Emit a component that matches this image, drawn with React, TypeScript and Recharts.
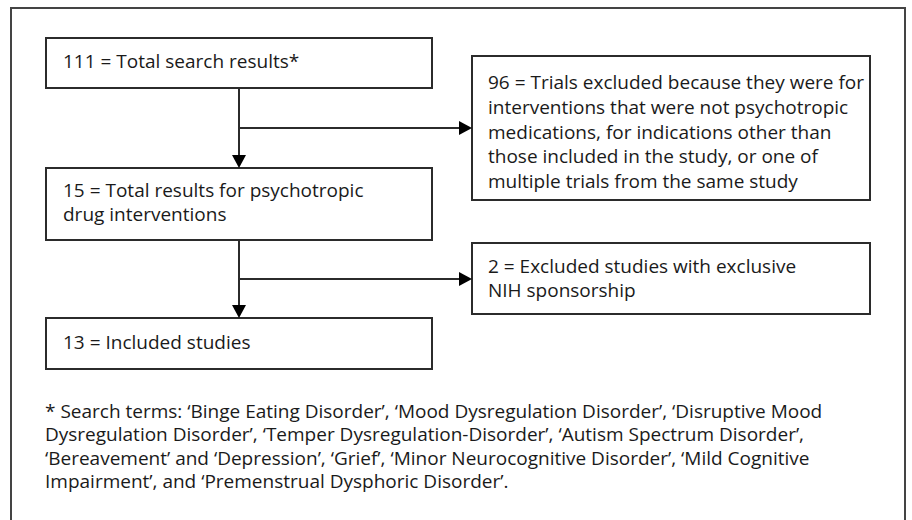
import React from 'react';
import { ComposedChart, XAxis, YAxis, ReferenceArea, ReferenceLine, Scatter } from 'recharts';

// Cajas del diagrama (coordenadas en unidades del eje)
const boxNames = ['search', 'excluded96', 'psycho', 'excluded2', 'included'];
const boxLeft = [46, 472, 46, 472, 46];
const boxRight = [432, 870, 432, 870, 432];
const boxTop = [38, 56, 168, 243, 318];
const boxBottom = [88, 200, 240, 314, 369];

// Textos
const textLines = [
  ['111 = Total search results*'],
  [
    '96 = Trials excluded because they were for',
    'interventions that were not psychotropic',
    'medications, for indications other than',
    'those included in the study, or one of',
    'multiple trials from the same study',
  ],
  ['15 = Total results for psychotropic', 'drug interventions'],
  ['2 = Excluded studies with exclusive', 'NIH sponsorship'],
  ['13 = Included studies'],
  [
    '* Search terms: \u2018Binge Eating Disorder\u2019, \u2018Mood Dysregulation Disorder\u2019, \u2018Disruptive Mood',
    'Dysregulation Disorder\u2019, \u2018Temper Dysregulation-Disorder\u2019, \u2018Autism Spectrum Disorder\u2019,',
    '\u2018Bereavement\u2019 and \u2018Depression\u2019, \u2018Grief\u2019, \u2018Minor Neurocognitive Disorder\u2019, \u2018Mild Cognitive',
    'Impairment\u2019, and \u2018Premenstrual Dysphoric Disorder\u2019.',
  ],
];
const textX = [63, 488, 63, 488, 63, 45];
const textY = [68, 89, 197, 273, 349, 418];
const textStep = [24, 24.8, 24, 24, 24, 23.4];

// Conectores
const connectors = [
  [{ x: 239, y: 88 }, { x: 239, y: 158 }],
  [{ x: 239, y: 128 }, { x: 462, y: 128 }],
  [{ x: 239, y: 240 }, { x: 239, y: 308 }],
  [{ x: 239, y: 279 }, { x: 462, y: 279 }],
];
const arrowTips = [
  { x: 239, y: 168, dir: 'down' },
  { x: 472, y: 128, dir: 'right' },
  { x: 239, y: 318, dir: 'down' },
  { x: 472, y: 279, dir: 'right' },
];

const textData = textLines.map((lines, i) => ({ x: textX[i], y: textY[i], lines, step: textStep[i] }));

const INK = '#2b2b2b';
const FONT = '"Open Sans", sans-serif';

const TextShape = (props: any) => {
  const { cx, cy, payload } = props;
  return (
    <text x={cx} y={cy} fill="#1a1a1a" fontSize={19} fontFamily={FONT}>
      {payload.lines.map((l: string, i: number) => (
        <tspan key={i} x={cx} y={cy + i * payload.step}>
          {l}
        </tspan>
      ))}
    </text>
  );
};

const ArrowShape = (props: any) => {
  const { cx, cy, payload } = props;
  const d =
    payload.dir === 'down'
      ? `M${cx},${cy} L${cx - 7},${cy - 13} L${cx + 7},${cy - 13} Z`
      : `M${cx},${cy} L${cx - 13},${cy - 7} L${cx - 13},${cy + 7} Z`;
  return <path d={d} fill="#000" />;
};

export default function App() {
  return (
    <div style={{ position: 'absolute', left: 0, top: 0, width: 912, height: 520, background: '#fff' }}>
      <ComposedChart width={912} height={520} margin={{ top: 0, right: 0, bottom: 0, left: 0 }}>
        <XAxis type="number" dataKey="x" domain={[0, 912]} hide allowDataOverflow />
        <YAxis type="number" dataKey="y" domain={[0, 520]} reversed hide allowDataOverflow />
        <ReferenceArea
          x1={11}
          x2={905}
          y1={8}
          y2={560}
          ifOverflow="visible"
          fill="#fff"
          fillOpacity={1}
          stroke="#444"
          strokeWidth={2}
        />
        {boxNames.map((name, i) => (
          <ReferenceArea
            key={name}
            x1={boxLeft[i]}
            x2={boxRight[i]}
            y1={boxTop[i]}
            y2={boxBottom[i]}
            fill="#fff"
            fillOpacity={1}
            stroke={INK}
            strokeWidth={2}
          />
        ))}
        {connectors.map((seg, i) => (
          <ReferenceLine key={i} segment={seg} stroke={INK} strokeWidth={2} />
        ))}
        <Scatter data={arrowTips} shape={ArrowShape} isAnimationActive={false} />
        <Scatter data={textData} shape={TextShape} isAnimationActive={false} />
      </ComposedChart>
    </div>
  );
}
